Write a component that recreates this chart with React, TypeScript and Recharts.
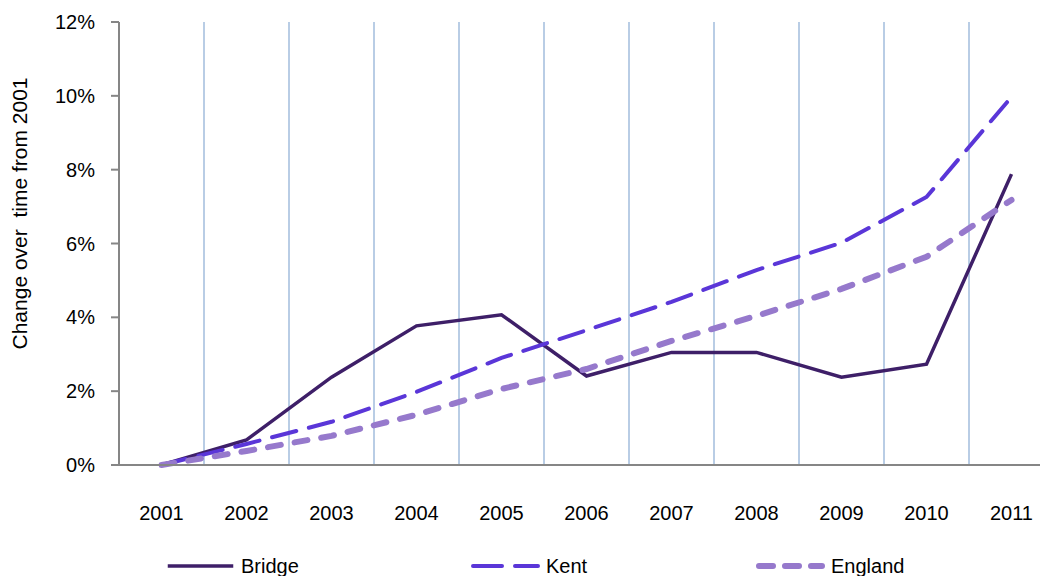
import React from "react";
import {
  ComposedChart,
  Line,
  XAxis,
  YAxis,
  CartesianGrid,
  Legend,
} from "recharts";

// ── data ────────────────────────────────────────────────────────────────
const years = ["2001", "2002", "2003", "2004", "2005", "2006", "2007", "2008", "2009", "2010", "2011"];
const bridge = [0, 0.0068, 0.0238, 0.0377, 0.0407, 0.0241, 0.0305, 0.0305, 0.0238, 0.0273, 0.0788];
const kent = [0, 0.0057, 0.0117, 0.0198, 0.029, 0.0365, 0.0442, 0.0528, 0.0602, 0.0726, 0.0997];
const england = [0, 0.0038, 0.0079, 0.0136, 0.0206, 0.026, 0.0336, 0.0404, 0.0477, 0.0564, 0.0718];
const yTicks = [0, 0.02, 0.04, 0.06, 0.08, 0.1, 0.12];

const data = years.map((year, i) => ({
  year,
  Bridge: bridge[i],
  Kent: kent[i],
  England: england[i],
}));

// ── style ───────────────────────────────────────────────────────────────
const FONT = "'Liberation Sans', Arial, sans-serif";
const AXIS_GREY = "#868686";
const GRID_BLUE = "#B9CDE5";

const SERIES = [
  { key: "Bridge", color: "#3E1F68", width: 3.5, dash: undefined as string | undefined, legendDash: undefined as string | undefined, legendLeft: 165 },
  { key: "Kent", color: "#5A36D8", width: 4, dash: "25 13", legendDash: "29 13", legendLeft: 470 },
  { key: "England", color: "#9679CC", width: 6, dash: "13 14", legendDash: "14 12", legendLeft: 755 },
];

const pct = (v: number) => `${Math.round(v * 100)}%`;

// grid lines sit on the category boundaries (start of each band)
function bandStarts({ xAxis }: any): number[] {
  const s = xAxis?.scale;
  if (!s) return [];
  if (typeof s === "function") return years.slice(1).map((y) => s(y));
  if (typeof s.map === "function") return years.slice(1).map((y) => s.map(y));
  const [a, b] = s.range();
  return years.slice(1).map((_, i) => a + ((i + 1) * (b - a)) / years.length);
}

function LegendContent() {
  return (
    <div style={{ position: "relative", width: 1040, height: 30, fontFamily: FONT, fontSize: 20, color: "#000" }}>
      {SERIES.map((s) => (
        <div
          key={s.key}
          style={{ position: "absolute", left: s.legendLeft, top: 0, display: "flex", alignItems: "center", whiteSpace: "nowrap" }}
        >
          <svg width={72} height={14} style={{ marginRight: 4 }}>
            <line
              x1={s.width / 2 + 1}
              x2={70 - s.width / 2}
              y1={7}
              y2={7}
              stroke={s.color}
              strokeWidth={s.width}
              strokeDasharray={s.legendDash}
              strokeLinecap={s.dash ? "round" : "butt"}
            />
          </svg>
          <span style={{ lineHeight: "20px" }}>{s.key}</span>
        </div>
      ))}
    </div>
  );
}

export default function App() {
  return (
    <div style={{ position: "absolute", left: 0, top: 0, width: 1040, height: 576, overflow: "hidden", background: "#fff" }}>
      <ComposedChart
        width={1064}
        height={600}
        data={data}
        margin={{ top: 22, right: 10, bottom: 75, left: 0 }}
        style={{ fontFamily: FONT }}
      >
        <CartesianGrid
          horizontal={false}
          stroke={GRID_BLUE}
          strokeWidth={2}
          verticalCoordinatesGenerator={bandStarts}
        />
        <XAxis
          dataKey="year"
          scale="band"
          height={60}
          axisLine={{ stroke: AXIS_GREY, strokeWidth: 2 }}
          tickLine={false}
          tickSize={0}
          tickMargin={41}
          tick={{ fill: "#000", fontSize: 20, fontFamily: FONT }}
          interval={0}
        />
        <YAxis
          width={119}
          domain={[0, 0.12]}
          ticks={yTicks}
          tickFormatter={pct}
          axisLine={{ stroke: AXIS_GREY, strokeWidth: 2 }}
          tickLine={{ stroke: AXIS_GREY, strokeWidth: 2 }}
          tickSize={8}
          tickMargin={16}
          tick={{ fill: "#000", fontSize: 20, fontFamily: FONT }}
          label={{
            value: "Change over\u00a0 time from 2001",
            angle: -90,
            position: "insideLeft",
            offset: 0,
            dx: 20,
            dy: -30,
            style: { fontSize: 21, fill: "#000", fontFamily: FONT, textAnchor: "middle" },
          }}
        />
        {SERIES.map((s) => (
          <Line
            key={s.key}
            dataKey={s.key}
            type="linear"
            stroke={s.color}
            strokeWidth={s.width}
            strokeDasharray={s.dash}
            strokeLinecap={s.dash ? "round" : "butt"}
            strokeLinejoin="miter"
            dot={false}
            activeDot={false}
            isAnimationActive={false}
          />
        ))}
        <Legend
          verticalAlign="middle"
          align="center"
          wrapperStyle={{ top: 556, left: 0, width: 1040 }}
          content={() => <LegendContent />}
        />
      </ComposedChart>
    </div>
  );
}
